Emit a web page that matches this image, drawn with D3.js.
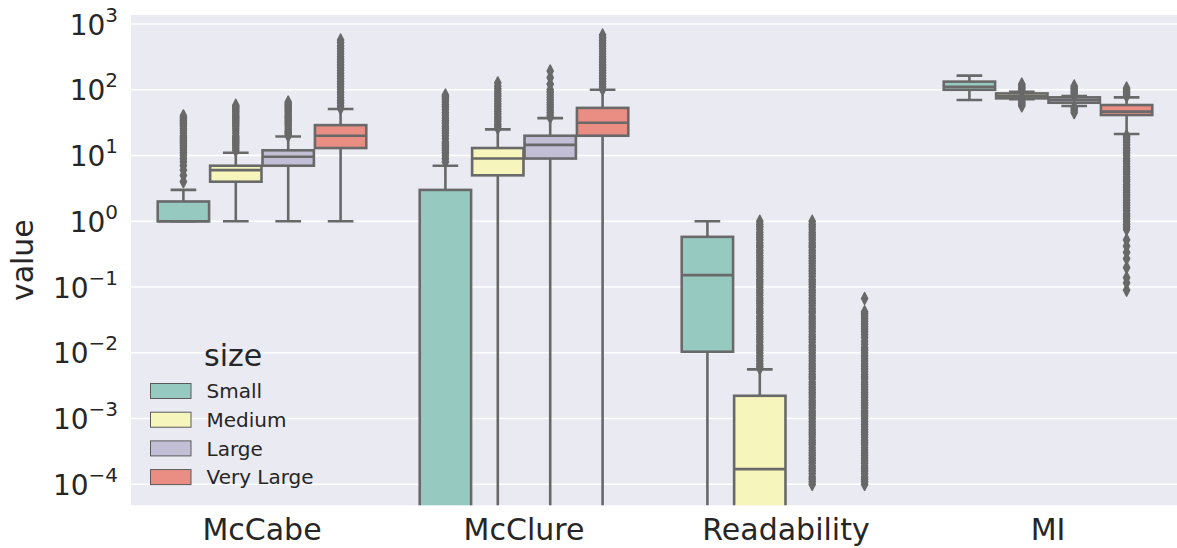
<!DOCTYPE html>
<html><head><meta charset="utf-8">
<script src="https://cdn.jsdelivr.net/npm/d3@7"></script>
<style>html,body{margin:0;padding:0;background:#fff;overflow:hidden}text{font-family:"DejaVu Sans",sans-serif;fill:#262626}</style>
</head><body><svg id="c" width="1177" height="548"></svg>
<script>
const categories = ["McCabe", "McClure", "Readability", "MI"];
const sizes = ["Small", "Medium", "Large", "Very Large"];
const palette = ["#96cac1", "#f6f6bc", "#c1bed6", "#ea8e83"];
const yTickExponents = [-4, -3, -2, -1, 0, 1, 2, 3];

// box stats per size: [whislo, q1, median, q3, whishi]  (0 = below the log axis)
const mccabeStats = [[1, 1, 1, 2, 3], [1, 4, 6, 7, 11], [1, 7, 9.6, 12, 19.5], [1, 13, 20, 29, 51]];
const mcclureStats = [[0, 0, 0, 3, 7], [0, 5, 9, 13, 25], [0, 9, 14.5, 20, 37], [0, 20, 31.5, 53, 100]];
const readabilityStats = [[0, 0.0104, 0.152, 0.58, 1.0], [0, 0, 0.00017, 0.00222, 0.0056], [0, 0, 0, 0, 0], [0, 0, 0, 0, 0]];
const miStats = [[70, 100, 111, 133, 164], [72, 74, 80, 88, 93], [56.6, 63.5, 70, 76.7, 80], [21.2, 41.3, 46.5, 58.6, 76.7]];

// outliers per size
const mccabeFliers = [
  [4, 5, 6, 7, 8, 9, 10, 11, 12, 13, 14, 15, 16, 17, 18, 19, 20, 22, 24, 26, 28, 30, 32, 34, 36, 38, 40],
  [12, 13, 14, 15, 16, 17, 18, 19, 20, 22, 24, 26, 28, 30, 32, 34, 36, 38, 40, 43, 46, 49, 52, 55, 58],
  [20, 21, 22, 23, 24, 26, 28, 30, 32, 34, 36, 38, 40, 43, 46, 49, 52, 55, 58, 61, 65],
  [52, 57, 63, 69, 76, 84, 92, 101, 111, 122, 134, 148, 163, 179, 197, 217, 239, 263, 289, 318, 350, 385, 424, 466, 520, 571]
];
const mcclureFliers = [
  [8, 9, 10, 11, 12, 13, 14, 15, 16, 18, 20, 22, 24, 26, 28, 31, 34, 37, 41, 45, 50, 55, 60, 66, 72, 78, 83],
  [26, 28, 30, 33, 36, 39, 43, 47, 51, 56, 61, 67, 73, 80, 87, 95, 104, 114, 127],
  [38, 41, 45, 49, 54, 59, 64, 70, 77, 84, 92, 100, 122, 153, 193],
  [101, 111, 122, 134, 148, 163, 179, 197, 217, 239, 263, 289, 318, 350, 385, 424, 466, 513, 565, 620, 681]
];
const readabilityFliers = [
  [],
  [5.8e-3, 6.2e-3, 6.8e-3, 7.5e-3, 8.2e-3, 9e-3,
   0.01, 0.011, 0.012, 0.013, 0.0145, 0.016, 0.0175, 0.019, 0.021, 0.023, 0.025, 0.0275, 0.03, 0.033, 0.036, 0.04, 0.043, 0.047, 0.052, 0.057, 0.062, 0.068, 0.075, 0.082, 0.09,
   0.1, 0.11, 0.12, 0.13, 0.145, 0.16, 0.175, 0.19, 0.21, 0.23, 0.25, 0.275, 0.3, 0.33, 0.36, 0.4, 0.43, 0.47, 0.52, 0.57, 0.62, 0.68, 0.75, 0.82, 0.9, 1.0],
  [1e-4, 1.1e-4, 1.2e-4, 1.3e-4, 1.45e-4, 1.6e-4, 1.75e-4, 1.9e-4, 2.1e-4, 2.3e-4, 2.5e-4, 2.75e-4, 3e-4, 3.3e-4, 3.6e-4, 4e-4, 4.3e-4, 4.7e-4, 5.2e-4, 5.7e-4, 6.2e-4, 6.8e-4, 7.5e-4, 8.2e-4, 9e-4,
   1e-3, 1.1e-3, 1.2e-3, 1.3e-3, 1.45e-3, 1.6e-3, 1.75e-3, 1.9e-3, 2.1e-3, 2.3e-3, 2.5e-3, 2.75e-3, 3e-3, 3.3e-3, 3.6e-3, 4e-3, 4.3e-3, 4.7e-3, 5.2e-3, 5.7e-3, 6.2e-3, 6.8e-3, 7.5e-3, 8.2e-3, 9e-3,
   0.01, 0.011, 0.012, 0.013, 0.0145, 0.016, 0.0175, 0.019, 0.021, 0.023, 0.025, 0.0275, 0.03, 0.033, 0.036, 0.04, 0.043, 0.047, 0.052, 0.057, 0.062, 0.068, 0.075, 0.082, 0.09,
   0.1, 0.11, 0.12, 0.13, 0.145, 0.16, 0.175, 0.19, 0.21, 0.23, 0.25, 0.275, 0.3, 0.33, 0.36, 0.4, 0.43, 0.47, 0.52, 0.57, 0.62, 0.68, 0.75, 0.82, 0.9, 1.0],
  [1e-4, 1.1e-4, 1.2e-4, 1.3e-4, 1.45e-4, 1.6e-4, 1.75e-4, 1.9e-4, 2.1e-4, 2.3e-4, 2.5e-4, 2.75e-4, 3e-4, 3.3e-4, 3.6e-4, 4e-4, 4.3e-4, 4.7e-4, 5.2e-4, 5.7e-4, 6.2e-4, 6.8e-4, 7.5e-4, 8.2e-4, 9e-4,
   1e-3, 1.1e-3, 1.2e-3, 1.3e-3, 1.45e-3, 1.6e-3, 1.75e-3, 1.9e-3, 2.1e-3, 2.3e-3, 2.5e-3, 2.75e-3, 3e-3, 3.3e-3, 3.6e-3, 4e-3, 4.3e-3, 4.7e-3, 5.2e-3, 5.7e-3, 6.2e-3, 6.8e-3, 7.5e-3, 8.2e-3, 9e-3,
   0.01, 0.011, 0.012, 0.0135, 0.015, 0.017, 0.019, 0.021, 0.023, 0.025, 0.0275, 0.03, 0.033, 0.036, 0.039, 0.042, 0.067]
];
const miFliers = [
  [],
  [57, 60, 63, 66, 70, 95, 100, 105, 110, 116, 122],
  [45, 48, 51, 54, 82, 87, 92, 97, 103, 108, 114],
  [0.09, 0.116, 0.139, 0.197, 0.27, 0.337, 0.42, 0.52,
   0.75, 0.82, 0.9, 1, 1.1, 1.2, 1.3, 1.45, 1.6, 1.75, 1.9, 2.1, 2.3, 2.5, 2.75, 3, 3.3, 3.6, 4, 4.3, 4.7, 5.2, 5.7,
   6.2, 6.8, 7.5, 8.2, 9, 10, 11, 12, 13, 14.5, 16, 17.5, 19, 20, 80, 85, 90, 95, 100, 106]
];

const statsByCat = [mccabeStats, mcclureStats, readabilityStats, miStats];
const fliersByCat = [mccabeFliers, mcclureFliers, readabilityFliers, miFliers];

const plot = {left: 131, top: 15, right: 1179, bottom: 505.3};
const gray = "#696969";
const lw = 2.6;

const svg = d3.select("#c");
svg.append("rect").attr("x", plot.left).attr("y", plot.top)
  .attr("width", plot.right - plot.left).attr("height", plot.bottom - plot.top).attr("fill", "#eaeaf2");

const y = d3.scaleLog().domain([Math.pow(10, -4.319), Math.pow(10, 3.137)]).range([plot.bottom, plot.top]);
const Y = v => v > 0 ? y(v) : plot.bottom + 30;
const x = d3.scaleBand().domain(categories).range([plot.left, plot.right]).padding(0);
const hue = d3.scaleBand().domain(sizes).range([-0.4 * x.bandwidth(), 0.4 * x.bandwidth()]).padding(0);
const boxW = hue.bandwidth() * 0.98;

// gridlines
svg.append("g").selectAll("line").data(yTickExponents).join("line")
  .attr("x1", plot.left).attr("x2", plot.right)
  .attr("y1", d => y(Math.pow(10, d))).attr("y2", d => y(Math.pow(10, d)))
  .attr("stroke", "#fff").attr("stroke-width", 1.6);

// y tick labels
const yt = svg.append("g").selectAll("text").data(yTickExponents).join("text")
  .attr("x", 118).attr("y", d => y(Math.pow(10, d)) + 10.5)
  .attr("text-anchor", "end").style("font-size", "28px");
yt.append("tspan").text("10");
yt.append("tspan").attr("dy", -13).style("font-size", "20px")
  .text(d => (d < 0 ? "\u2212" : "") + Math.abs(d));

// x tick labels
svg.append("g").selectAll("text").data(categories).join("text")
  .attr("x", d => x(d) + x.bandwidth() / 2).attr("y", 540)
  .attr("text-anchor", "middle").style("font-size", "30px").text(d => d);

// y label
svg.append("text").attr("transform", `translate(33,${(plot.top + plot.bottom) / 2}) rotate(-90)`)
  .attr("text-anchor", "middle").style("font-size", "30px").text("value");

// clip
svg.append("clipPath").attr("id", "pc").append("rect")
  .attr("x", plot.left).attr("y", plot.top).attr("width", plot.right - plot.left).attr("height", plot.bottom - plot.top);
const g = svg.append("g").attr("clip-path", "url(#pc)");

const boxes = [];
categories.forEach((c, ci) => sizes.forEach((s, si) => {
  const st = statsByCat[ci][si];
  boxes.push({cat: c, size: s, si, whislo: st[0], q1: st[1], med: st[2], q3: st[3], whishi: st[4], fliers: fliersByCat[ci][si]});
}));
const cx = d => x(d.cat) + x.bandwidth() / 2 + hue(d.size) + hue.bandwidth() / 2;

const bg = g.selectAll("g.box").data(boxes).join("g").attr("class", "box");
// whiskers
bg.append("line").attr("x1", cx).attr("x2", cx).attr("y1", d => Y(d.q3)).attr("y2", d => Y(d.whishi))
  .attr("stroke", gray).attr("stroke-width", lw);
bg.append("line").attr("x1", cx).attr("x2", cx).attr("y1", d => Y(d.q1)).attr("y2", d => Y(d.whislo))
  .attr("stroke", gray).attr("stroke-width", lw);
// caps
bg.append("line").attr("x1", d => cx(d) - boxW / 4).attr("x2", d => cx(d) + boxW / 4)
  .attr("y1", d => Y(d.whishi)).attr("y2", d => Y(d.whishi)).attr("stroke", gray).attr("stroke-width", lw);
bg.append("line").attr("x1", d => cx(d) - boxW / 4).attr("x2", d => cx(d) + boxW / 4)
  .attr("y1", d => Y(d.whislo)).attr("y2", d => Y(d.whislo)).attr("stroke", gray).attr("stroke-width", lw);
// box
bg.append("rect").attr("x", d => cx(d) - boxW / 2).attr("width", boxW)
  .attr("y", d => Y(d.q3)).attr("height", d => Math.max(0, Y(d.q1) - Y(d.q3)))
  .attr("fill", d => palette[d.si]).attr("stroke", gray).attr("stroke-width", lw);
// median
bg.append("line").attr("x1", d => cx(d) - boxW / 2).attr("x2", d => cx(d) + boxW / 2)
  .attr("y1", d => Y(d.med)).attr("y2", d => Y(d.med)).attr("stroke", gray).attr("stroke-width", lw);
// fliers (thin diamonds)
const hw = 3.1, hh = 6;
bg.each(function(d) {
  d3.select(this).selectAll("path").data(d.fliers).join("path")
    .attr("d", v => `M${cx(d)},${Y(v) - hh}L${cx(d) + hw},${Y(v)}L${cx(d)},${Y(v) + hh}L${cx(d) - hw},${Y(v)}Z`)
    .attr("fill", gray).attr("stroke", gray).attr("stroke-width", 1.5).attr("stroke-linejoin", "round");
});

// legend
const leg = svg.append("g");
leg.append("text").attr("x", 204).attr("y", 366).style("font-size", "30px").text("size");
const li = leg.selectAll("g.li").data(sizes).join("g").attr("class", "li")
  .attr("transform", (d, i) => `translate(0,${i * 28.7})`);
li.append("rect").attr("x", 150.5).attr("y", 383.5).attr("width", 40.5).attr("height", 15)
  .attr("fill", (d, i) => palette[i]).attr("stroke", "#5a5a5a").attr("stroke-width", 1);
li.append("text").attr("x", 206.5).attr("y", 398.3).style("font-size", "20px").text(d => d);
</script></body></html>
